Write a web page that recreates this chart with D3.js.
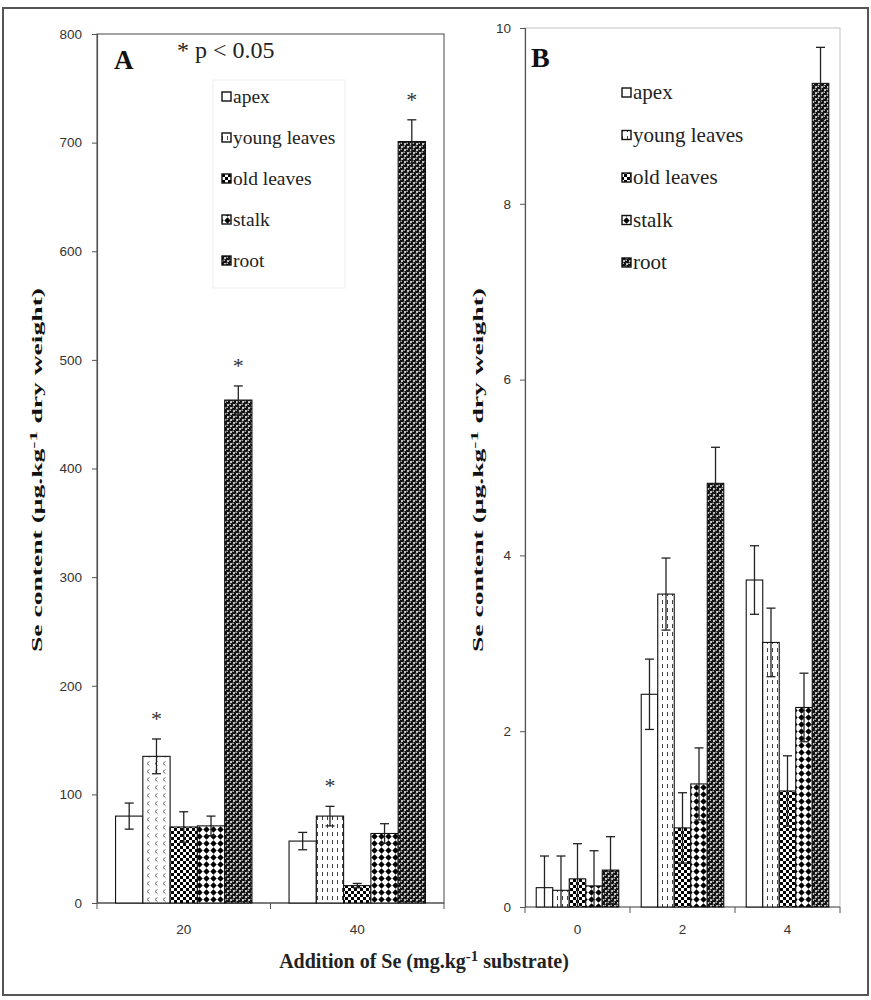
<!DOCTYPE html>
<html><head><meta charset="utf-8">
<script src="https://cdn.jsdelivr.net/npm/d3@7"></script>
<style>body{margin:0;background:#fff}</style>
</head><body>
<svg id="c" width="871" height="1000"></svg>
<script>
const seriesNames = ["apex","young leaves","old leaves","stalk","root"];
const categoriesA = ["20","40"];
const valuesA20 = [80,135,70,71,463];
const valuesA40 = [57,80,16,64,701];
const errA20 = [12,16,14,9,13];
const errA40 = [8,9,2,9,20];
const starsA20 = [0,1,0,0,1];
const starsA40 = [0,1,0,0,1];
const ticksA = [0,100,200,300,400,500,600,700,800];

const categoriesB = ["0","2","4"];
const valuesB0 = [0.22,0.19,0.32,0.24,0.42];
const valuesB2 = [2.42,3.56,0.90,1.40,4.82];
const valuesB4 = [3.72,3.01,1.32,2.27,9.37];
const errB0 = [0.36,0.39,0.40,0.40,0.38];
const errB2 = [0.40,0.41,0.40,0.41,0.41];
const errB4 = [0.39,0.39,0.40,0.39,0.41];
const ticksB = [0,2,4,6,8,10];

const svg = d3.select("#c");
const defs = svg.append("defs");
const serif = "'Liberation Serif','Times New Roman',serif";
const sans = "'Liberation Sans',Arial,sans-serif";

function pat(id,w,h,fn){const p=defs.append("pattern").attr("id",id).attr("patternUnits","userSpaceOnUse").attr("width",w).attr("height",h);fn(p);}
pat("pApex",4,4,p=>p.append("rect").attr("width",4).attr("height",4).attr("fill","#fff"));
pat("pYoung",5,8,p=>{p.append("rect").attr("width",5).attr("height",8).attr("fill","#fff");
  p.append("line").attr("x1",2.5).attr("x2",2.5).attr("y1",0).attr("y2",4).attr("stroke","#444").attr("stroke-width",1);});
pat("pYoungC",8,8,p=>{p.append("rect").attr("width",8).attr("height",8).attr("fill","#fff");
  p.append("path").attr("d","M5.5,1.5 L3,3.5 L5.5,5.5").attr("fill","none").attr("stroke","#666").attr("stroke-width",1);});
pat("pOld",6,6,p=>{p.append("rect").attr("width",6).attr("height",6).attr("fill","#fff");
  p.append("rect").attr("width",3).attr("height",3).attr("fill","#000");
  p.append("rect").attr("x",3).attr("y",3).attr("width",3).attr("height",3).attr("fill","#000");});
pat("pStalk",7,7,p=>{p.append("rect").attr("width",7).attr("height",7).attr("fill","#fff");
  p.append("path").attr("d","M3.5,0.3 L6.7,3.5 L3.5,6.7 L0.3,3.5Z").attr("fill","#000");});
pat("pRoot",6,6,p=>{p.append("rect").attr("width",6).attr("height",6).attr("fill","#fff");
  [[0,0],[6,0],[0,6],[6,6],[3,3]].forEach(([cx,cy])=>{
    p.append("circle").attr("cx",cx).attr("cy",cy).attr("r",2.3).attr("fill","#111");
    p.append("circle").attr("cx",cx-0.8).attr("cy",cy-0.8).attr("r",0.75).attr("fill","#e8e8e8");
  });});
const fills = ["url(#pApex)","url(#pYoung)","url(#pOld)","url(#pStalk)","url(#pRoot)"];

svg.append("rect").attr("x",3).attr("y",8).attr("width",865).attr("height",987)
  .attr("fill","none").attr("stroke","#555").attr("stroke-width",2);

function ylabel(x,y){
  const t=svg.append("text").attr("transform",`translate(${x},${y}) rotate(-90) scale(2.0,1)`).attr("text-anchor","middle")
    .attr("font-family",serif).attr("font-weight","bold").attr("font-size",13.8).attr("fill","#111");
  t.append("tspan").text("Se content (μg.kg");
  t.append("tspan").attr("dy",-5).attr("font-size",11).text("-1");
  t.append("tspan").attr("dy",5).text(" dry weight)");
}

function panel(o){
  const y=d3.scaleLinear().domain(o.domain).range([o.bottom,o.top]);
  const x0=d3.scaleBand().domain(o.cats).range([o.left,o.right]).padding(0);
  const x1=d3.scaleBand().domain(seriesNames).range([0,x0.bandwidth()]).paddingInner(0).paddingOuter(0.68);
  const g=svg.append("g");
  g.append("rect").attr("x",o.left).attr("y",o.top).attr("width",o.right-o.left).attr("height",o.bottom-o.top)
    .attr("fill","none").attr("stroke",o.frame).attr("stroke-width",1.2);
  const ya=g.append("g").attr("transform",`translate(${o.left},0)`)
    .call(d3.axisLeft(y).tickValues(o.ticks).tickSize(5).tickPadding(o.tickPad).tickFormat(d3.format("d")));
  ya.select(".domain").attr("stroke","#555").attr("stroke-width",1.2);
  ya.selectAll(".tick line").attr("stroke","#555");
  ya.selectAll("text").attr("font-family",sans).attr("font-size",13.5).attr("fill","#333");
  const xa=g.append("g");
  xa.append("line").attr("x1",o.left).attr("x2",o.right).attr("y1",o.bottom).attr("y2",o.bottom).attr("stroke","#555").attr("stroke-width",1.2);
  const bounds=o.cats.map(c=>x0(c)).concat([o.right]);
  xa.selectAll(".bt").data(bounds).join("line").attr("x1",d=>d).attr("x2",d=>d)
    .attr("y1",o.bottom).attr("y2",o.bottom+6).attr("stroke","#555");
  xa.selectAll(".xl").data(o.cats).join("text").attr("x",d=>x0(d)+x0.bandwidth()/2).attr("y",934)
    .attr("text-anchor","middle").attr("font-family",sans).attr("font-size",13.5).attr("fill","#333").text(d=>d);
  o.cats.forEach((c,ci)=>{
    const vals=o.vals[ci], errs=o.errs[ci];
    const gg=g.append("g");
    gg.selectAll("rect").data(vals).join("rect")
      .attr("x",(d,i)=>x0(c)+x1(seriesNames[i])).attr("width",x1.bandwidth())
      .attr("y",d=>y(d)).attr("height",d=>y(0)-y(d))
      .attr("fill",(d,i)=>(o.fillOverride&&o.fillOverride[ci]&&o.fillOverride[ci][i])||fills[i])
      .attr("stroke","#111").attr("stroke-width",1.1);
    vals.forEach((v,i)=>{
      const cx=x0(c)+x1(seriesNames[i])+x1.bandwidth()/2;
      const hi=y(v+errs[i]), lo=y(Math.max(0,v-errs[i]));
      gg.append("line").attr("x1",cx).attr("x2",cx).attr("y1",hi).attr("y2",lo).attr("stroke","#222").attr("stroke-width",1.3);
      gg.append("line").attr("x1",cx-4.5).attr("x2",cx+4.5).attr("y1",hi).attr("y2",hi).attr("stroke","#222").attr("stroke-width",1.3);
      if(v-errs[i]>0) gg.append("line").attr("x1",cx-4.5).attr("x2",cx+4.5).attr("y1",lo).attr("y2",lo).attr("stroke","#222").attr("stroke-width",1.3);
      if(o.stars && o.stars[ci][i]){
        gg.append("text").attr("x",cx).attr("y",hi-13).attr("text-anchor","middle")
          .attr("font-family",serif).attr("font-size",22).attr("fill","#333").text("*");
      }
    });
  });
  const lg=g.append("g");
  if(o.legendBox) lg.append("rect").attr("x",o.legendBox[0]).attr("y",o.legendBox[1]).attr("width",o.legendBox[2]).attr("height",o.legendBox[3])
    .attr("fill","#fff").attr("stroke","#eee");
  seriesNames.forEach((s,i)=>{
    const yy=o.legY+i*o.legStep;
    lg.append("rect").attr("x",o.legX).attr("y",yy-11).attr("width",9).attr("height",9)
      .attr("fill",fills[i]).attr("stroke","#111").attr("stroke-width",1.4);
    lg.append("text").attr("x",o.legX+11).attr("y",yy).attr("font-family",serif).attr("font-size",o.legFont)
      .attr("fill","#222").text(s);
  });
  return {x0,x1,y};
}

panel({domain:[0,800],top:34,bottom:903,left:97,right:444,cats:categoriesA,
  vals:[valuesA20,valuesA40],errs:[errA20,errA40],stars:[starsA20,starsA40],ticks:ticksA,frame:"#666",tickPad:10,
  fillOverride:[[null,"url(#pYoungC)"],null],
  legX:222,legY:103,legStep:41,legFont:19.5,legendBox:[213,80,132,208]});
panel({domain:[0,10],top:28,bottom:907,left:525,right:840,cats:categoriesB,
  vals:[valuesB0,valuesB2,valuesB4],errs:[errB0,errB2,errB4],ticks:ticksB,frame:"#ccc",tickPad:9,
  legX:622,legY:99,legStep:42.5,legFont:21,legendBox:null});

ylabel(42,470);
ylabel(483,470);

svg.append("text").attr("x",114).attr("y",69).attr("font-family",serif).attr("font-weight","bold").attr("font-size",27).attr("fill","#111").text("A");
svg.append("text").attr("x",177).attr("y",58).attr("font-family",serif).attr("font-size",24).attr("fill","#222").text("* p < 0.05");
svg.append("text").attr("x",531).attr("y",67).attr("font-family",serif).attr("font-weight","bold").attr("font-size",28).attr("fill","#111").text("B");

const xt=svg.append("text").attr("x",424).attr("y",968).attr("text-anchor","middle")
  .attr("font-family",serif).attr("font-weight","bold").attr("font-size",20).attr("fill","#222");
xt.append("tspan").text("Addition of Se (mg.kg");
xt.append("tspan").attr("dy",-7).attr("font-size",15).text("-1");
xt.append("tspan").attr("dy",7).text(" substrate)");
</script>
</body></html>
